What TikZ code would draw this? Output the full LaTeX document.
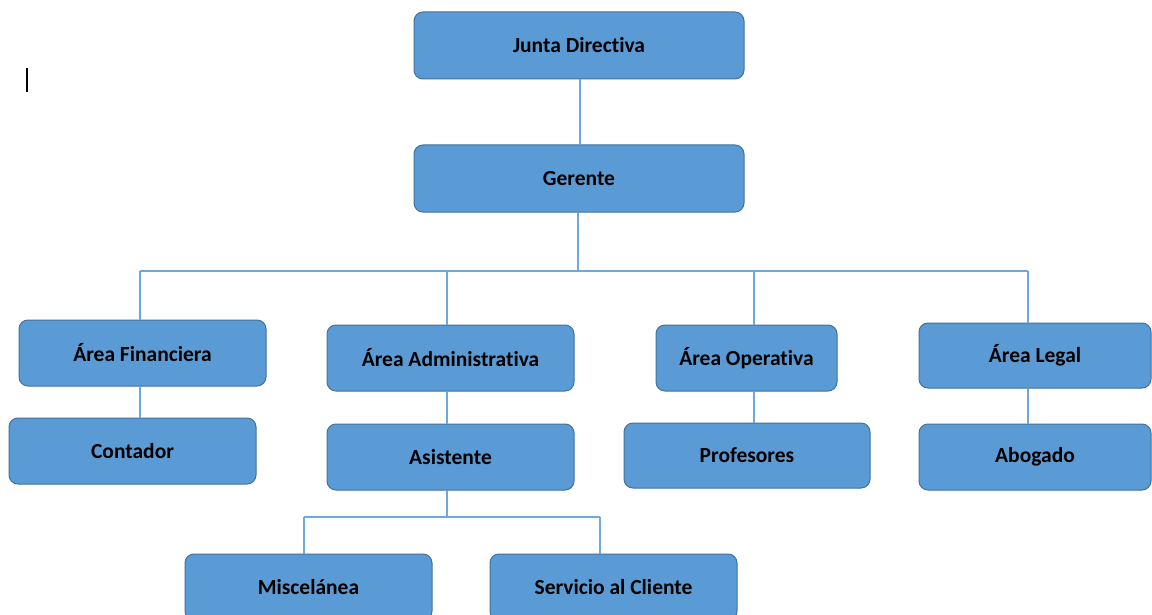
\documentclass[tikz,border=0pt]{standalone}
\usepackage{fontspec}
\setmainfont[Ligatures=NoCommon]{Carlito}
\definecolor{boxfill}{HTML}{5B9BD5}
\definecolor{boxline}{HTML}{41719C}
\definecolor{conn}{HTML}{6FA8DC}
\begin{document}
\begin{tikzpicture}[x=1pt,y=-1pt,
  orgbox/.style={draw=boxline, line width=1pt, fill=boxfill, rounded corners=9pt,
     inner sep=0pt, font=\fontsize{21.5}{24}\selectfont\bfseries, text=black},
  link/.style={draw=conn, line width=1.4pt}]
\useasboundingbox (0,0) rectangle (1152,615);
\clip (0,0) rectangle (1152,615);
\fill[white] (0,0) rectangle (1152,615);
% stray text cursor
\draw[black, line width=1.2pt] (27,68) -- (27,92);
% nodes
\node[orgbox, minimum width=330pt, minimum height=67pt] (jd) at (579,45.5) {Junta Directiva};
\node[orgbox, minimum width=330pt, minimum height=67pt] (ge) at (579,178.5) {Gerente};
\node[orgbox, minimum width=247pt, minimum height=66pt] (af) at (142.5,353) {Área Financiera};
\node[orgbox, minimum width=247pt, minimum height=66pt] (aa) at (450.5,358) {Área Administrativa};
\node[orgbox, minimum width=181pt, minimum height=66pt] (ao) at (746.5,358) {Área Operativa};
\node[orgbox, minimum width=232pt, minimum height=65pt] (al) at (1035,355.5) {Área Legal};
\node[orgbox, minimum width=247pt, minimum height=66pt] (co) at (132.5,451) {Contador};
\node[orgbox, minimum width=247pt, minimum height=66pt] (as) at (450.5,457) {Asistente};
\node[orgbox, minimum width=246pt, minimum height=65pt] (pr) at (747,455.5) {Profesores};
\node[orgbox, minimum width=232pt, minimum height=66pt] (ab) at (1035,457) {Abogado};
\node[orgbox, minimum width=247pt, minimum height=66pt] (mi) at (308.5,587) {Miscelánea};
\node[orgbox, minimum width=247pt, minimum height=66pt] (sc) at (613.5,587) {Servicio al Cliente};
% junctions
\coordinate (hb) at (578,271);
\coordinate (hb2) at (447,517);
% connectors
\draw[link] (jd.south -| 580,0) -- (ge.north -| 580,0);
\draw[link] (ge.south -| hb) -- (hb);
\draw[link] (140,271) -- (1028,271);
\draw[link] (140,271) -- (af.north -| 140,0);
\draw[link] (447,271) -- (aa.north -| 447,0);
\draw[link] (754,271) -- (ao.north -| 754,0);
\draw[link] (1028,271) -- (al.north -| 1028,0);
\draw[link] (af.south -| 140,0) -- (co.north -| 140,0);
\draw[link] (aa.south -| 447,0) -- (as.north -| 447,0);
\draw[link] (ao.south -| 754,0) -- (pr.north -| 754,0);
\draw[link] (al.south -| 1028,0) -- (ab.north -| 1028,0);
\draw[link] (as.south -| hb2) -- (hb2);
\draw[link] (304,517) -- (600,517);
\draw[link] (304,517) -- (mi.north -| 304,0);
\draw[link] (600,517) -- (sc.north -| 600,0);
\end{tikzpicture}
\end{document}
